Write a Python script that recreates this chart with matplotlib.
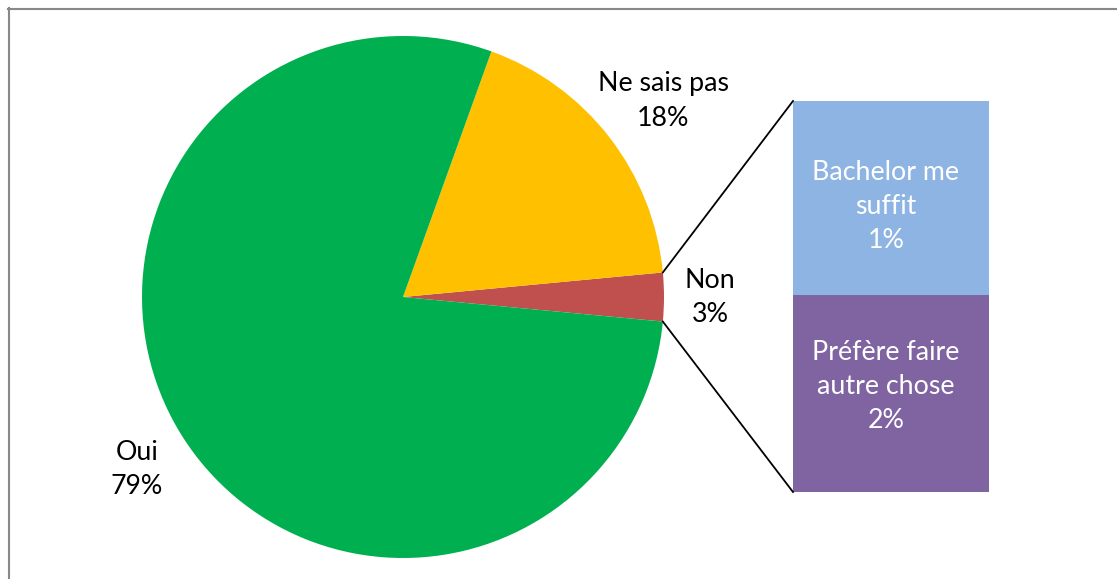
import matplotlib
matplotlib.use("Agg")
import matplotlib.pyplot as plt
import numpy as np

# ---- data ----
pie_labels = ["Oui", "Ne sais pas", "Non"]
pie_values = [79, 18, 3]
pie_colors = ["#00B050", "#FFC000", "#C0504D"]

bar_labels = ["Préfère faire\nautre chose", "Bachelor me\nsuffit"]
bar_values = [1.51, 1.49]
bar_colors = ["#8064A2", "#8EB4E3"]

W, H = 1117, 579
fig = plt.figure(figsize=(W / 100, H / 100), dpi=100)
ax = fig.add_axes([0, 0, 1, 1])

FONT = "Lato"
FS = 19.3
LS = 1.45

# ---- pie ----
cx, cy, r = 403, 282, 261
non = pie_values[2]
order = [2, 1, 0]  # Non, Ne sais pas, Oui counter-clockwise
start = -non / sum(pie_values) * 360 / 2
ax.pie([pie_values[i] for i in order], colors=[pie_colors[i] for i in order],
       startangle=start, counterclock=True, center=(cx, cy), radius=r,
       wedgeprops=dict(linewidth=0), frame=True)
ax.set_xlim(0, W)
ax.set_ylim(0, H)
ax.set_aspect("equal")
ax.axis("off")

# ---- bar of pie ----
bx, bw, bbot, btot = 793, 196, 87, 391
scale = btot / sum(bar_values)
heights = [v * scale for v in bar_values]
bottoms = [bbot, bbot + heights[0]]
ax.bar([bx + bw / 2] * 2, heights, width=bw, bottom=bottoms,
       color=bar_colors, linewidth=0)

# connector lines
a = np.deg2rad(non / sum(pie_values) * 360 / 2)
ax.plot([cx + r * np.cos(a), bx], [cy + r * np.sin(a), bbot + btot], color="black", lw=1.3)
ax.plot([cx + r * np.cos(-a), bx], [cy + r * np.sin(-a), bbot], color="black", lw=1.3)

# ---- labels ----
def pct(v):
    return f"{v:.0f}%"

kw = dict(ha="center", va="center", fontsize=FS, family=FONT, linespacing=LS)
ax.text(663, H - 101, f"{pie_labels[1]}\n{pct(pie_values[1])}", **kw)
ax.text(710, H - 297, f"{pie_labels[2]}\n{pct(pie_values[2])}", **kw)
ax.text(137, H - 470, f"{pie_labels[0]}\n{pct(pie_values[0])}", **kw)

ax.text(886, H - 387, f"{bar_labels[0]}\n{pct(bar_values[0])}", color="white", **kw)
ax.text(886, H - 207, f"{bar_labels[1]}\n{pct(bar_values[1])}", color="white", **kw)

# ---- chart border ----
fig.add_artist(plt.Line2D([8.5 / W, 8.5 / W], [0, 1 - 8 / H], color="#888888", lw=1.5,
                          transform=fig.transFigure))
fig.add_artist(plt.Line2D([8 / W, 1], [1 - 8.5 / H, 1 - 8.5 / H], color="#888888", lw=1.5,
                          transform=fig.transFigure))

fig.savefig("out.png", dpi=100, facecolor="white")
